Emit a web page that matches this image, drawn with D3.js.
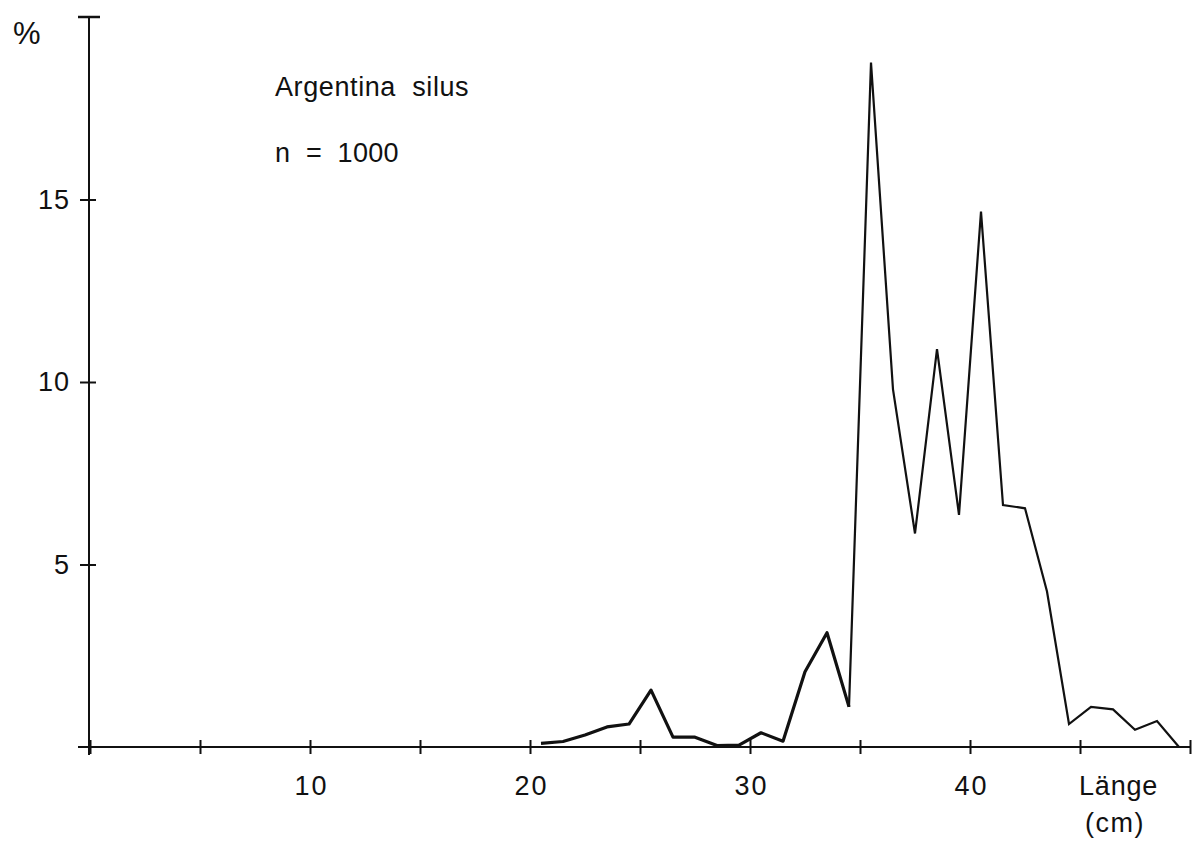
<!DOCTYPE html>
<html>
<head>
<meta charset="utf-8">
<script src="https://cdn.jsdelivr.net/npm/d3@7"></script>
<style>
  body { margin: 0; background: #fff; }
  svg { display: block; }
  text { font-family: "Liberation Sans", Arial, sans-serif; fill: #111; }
  .axis path, .axis line { stroke: #111; }
</style>
</head>
<body>
<div id="chart"></div>
<script>
// length classes (cm, class mid points) and share in percent
var lengths = [20.5, 21.5, 22.5, 23.5, 24.5, 25.5, 26.5, 27.5, 28.5, 29.5,
               30.5, 31.5, 32.5, 33.5, 34.5, 35.5, 36.5, 37.5, 38.5, 39.5,
               40.5, 41.5, 42.5, 43.5, 44.5, 45.5, 46.5, 47.5, 48.5, 49.5];
var percent = [0.1, 0.15, 0.33, 0.55, 0.63, 1.56, 0.27, 0.27, 0.04, 0.05,
               0.39, 0.16, 2.06, 3.13, 1.1, 18.75, 9.8, 5.85, 10.9, 6.36,
               14.67, 6.63, 6.54, 4.26, 0.63, 1.1, 1.03, 0.47, 0.71, 0];
var xTicks = [0, 5, 10, 15, 20, 25, 30, 35, 40, 45, 50];
var xLabels = [10, 20, 30, 40];
var yTicks = [5, 10, 15];
var title = "Argentina  silus";
var sampleSize = "n  =  1000";

var width = 1201, height = 841;
var font = "Liberation Sans, Arial, sans-serif";

var svg = d3.select("#chart").append("svg")
  .attr("width", width)
  .attr("height", height);

var x = d3.scaleLinear().domain([0, 50]).range([90, 1190]);
var y = d3.scaleLinear().domain([0, 20]).range([747, 17]);

// x axis, ticks cross the line
var xAxis = svg.append("g")
  .attr("class", "axis")
  .attr("transform", "translate(0," + y(0) + ")")
  .call(d3.axisBottom(x).tickValues(xTicks).tickSize(7).tickSizeOuter(0)
    .tickFormat(function(d) { return xLabels.indexOf(d) >= 0 ? d : ""; }));
xAxis.select(".domain").remove();
xAxis.append("line")
  .attr("x1", x(0) - 12).attr("x2", x(50))
  .attr("stroke", "#111").attr("stroke-width", 2);
xAxis.selectAll(".tick line").attr("y1", -7).attr("stroke-width", 2);
xAxis.selectAll(".tick text")
  .attr("y", 48)
  .attr("dy", 0)
  .attr("dx", 1)
  .attr("font-size", 27)
  .attr("letter-spacing", 2)
  .attr("font-family", font)
  .attr("fill", "#111");

// y axis
var yAxis = svg.append("g")
  .attr("class", "axis")
  .attr("transform", "translate(" + (x(0) - 1) + ",0)")
  .call(d3.axisLeft(y).tickValues(yTicks).tickSize(9).tickSizeOuter(0));
yAxis.select(".domain").remove();
yAxis.append("line")
  .attr("y1", y(20)).attr("y2", y(0) + 8)
  .attr("stroke", "#111").attr("stroke-width", 2);
yAxis.append("line")
  .attr("x1", -11).attr("x2", 11)
  .attr("y1", y(20)).attr("y2", y(20))
  .attr("stroke", "#111").attr("stroke-width", 2.5);
yAxis.selectAll(".tick line").attr("x2", 7).attr("x1", -9).attr("stroke-width", 2);
yAxis.selectAll(".tick text")
  .attr("x", -19)
  .attr("font-size", 27)
  .attr("letter-spacing", 1)
  .attr("font-family", font)
  .attr("fill", "#111");

// curve: heavier pen on the left part
var line = d3.line()
  .x(function(d) { return x(d[0]); })
  .y(function(d) { return y(d[1]); });

var pts = lengths.map(function(l, i) { return [l, percent[i]]; });
var split = lengths.indexOf(34.5);

svg.append("path")
  .datum(pts.slice(0, split + 1))
  .attr("d", line)
  .attr("fill", "none")
  .attr("stroke", "#111")
  .attr("stroke-width", 3.2)
  .attr("stroke-linejoin", "round");

svg.append("path")
  .datum(pts.slice(split))
  .attr("d", line)
  .attr("fill", "none")
  .attr("stroke", "#111")
  .attr("stroke-width", 2.2)
  .attr("stroke-linejoin", "miter");

// labels
svg.append("text").attr("x", 13).attr("y", 44).attr("font-size", 31).text("%");
svg.append("text").attr("x", 275).attr("y", 96).attr("font-size", 27)
  .attr("letter-spacing", 0.6).style("white-space", "pre").text(title);
svg.append("text").attr("x", 275).attr("y", 162).attr("font-size", 27)
  .attr("letter-spacing", 0.3).style("white-space", "pre").text(sampleSize);
svg.append("text").attr("x", 1079).attr("y", 795).attr("font-size", 27)
  .attr("letter-spacing", 0.8).text("Länge");
svg.append("text").attr("x", 1085).attr("y", 832).attr("font-size", 27)
  .attr("letter-spacing", 1.5).text("(cm)");
</script>
</body>
</html>
